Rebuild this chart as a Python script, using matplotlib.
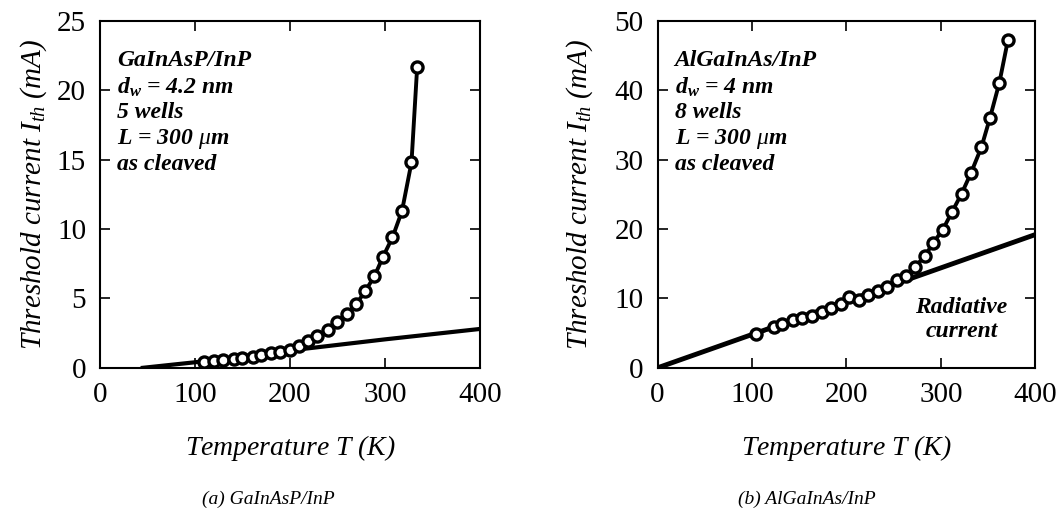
import matplotlib
matplotlib.use('Agg')
import matplotlib.pyplot as plt
import numpy as np

plt.rcParams['font.family'] = ['Liberation Serif', 'DejaVu Serif']
plt.rcParams['mathtext.fontset'] = 'custom'
plt.rcParams['mathtext.rm'] = 'Liberation Serif'
plt.rcParams['mathtext.it'] = 'Liberation Serif:italic'
plt.rcParams['mathtext.bf'] = 'Liberation Serif:bold:italic'

# (a) GaInAsP/InP - measured threshold current
tempA = [110, 120, 130, 141, 150, 161, 170, 180, 190, 200, 210, 219, 229, 240,
         250, 260, 270, 279, 289, 298, 308, 318, 328, 334]
ithA = [0.45, 0.5, 0.58, 0.65, 0.7, 0.8, 0.95, 1.05, 1.15, 1.3, 1.6, 1.95, 2.3, 2.7,
        3.3, 3.9, 4.6, 5.5, 6.6, 8.0, 9.4, 11.3, 14.8, 21.7]
# (a) radiative current
radTA = [45, 100, 200, 300, 400]
radIA = [0.0, 0.4, 1.25, 2.05, 2.8]

# (b) AlGaInAs/InP - measured threshold current
tempB = [104, 123, 132, 143, 153, 164, 174, 184, 194, 203, 213, 223, 233, 243,
         254, 263, 273, 283, 292, 302, 312, 322, 332, 343, 352, 362, 371]
ithB = [4.9, 5.9, 6.3, 6.9, 7.2, 7.5, 8.1, 8.6, 9.2, 10.2, 9.8, 10.5, 11.0, 11.7,
        12.7, 13.3, 14.6, 16.1, 18.0, 19.9, 22.5, 25.1, 28.1, 31.8, 36.0, 41.1, 47.2]
# (b) radiative current
radTB = [0, 400]
radIB = [0.0, 19.2]

fig = plt.figure(figsize=(10.64, 5.21), dpi=100)
axA = fig.add_axes([0.094, 0.294, 0.357, 0.666])
axB = fig.add_axes([0.618, 0.294, 0.355, 0.666])

mk = dict(color='black', lw=2.8, marker='o', markersize=8, markerfacecolor='white',
          markeredgecolor='black', markeredgewidth=2.4)

axA.plot(radTA, radIA, color='black', lw=3)
axA.plot(tempA, ithA, **mk)
axB.plot(radTB, radIB, color='black', lw=3.5)
axB.plot(tempB, ithB, **mk)

for ax, ymax, ystep, ypad in [(axA, 25, 5, 6), (axB, 50, 10, 14)]:
    ax.set_xlim(0, 400)
    ax.set_ylim(0, ymax)
    ax.set_xticks([0, 100, 200, 300, 400])
    ax.set_yticks(np.arange(0, ymax + 1, ystep))
    ax.tick_params(direction='in', top=True, right=True, length=7, width=1.2,
                   labelsize=21, pad=10)
    for s in ax.spines.values():
        s.set_linewidth(1.5)
    ax.set_xlabel('Temperature $T$ (K)', fontsize=20, style='italic', labelpad=18)
    ax.set_ylabel('Threshold current $I_{th}$ (mA)', fontsize=21, style='italic',
                  labelpad=ypad)

axA.text(0.045, 0.915, 'GaInAsP/InP\n$\\mathbf{d_w}$ = 4.2 nm\n5 wells\nL = 300 $\\mu$m\nas cleaved',
         transform=axA.transAxes, fontsize=17, style='italic', fontweight='bold',
         va='top', ha='left', linespacing=1.22)
axB.text(0.045, 0.915, 'AlGaInAs/InP\n$\\mathbf{d_w}$ = 4 nm\n8 wells\nL = 300 $\\mu$m\nas cleaved',
         transform=axB.transAxes, fontsize=17, style='italic', fontweight='bold',
         va='top', ha='left', linespacing=1.22)
axB.text(322, 7, 'Radiative\ncurrent', fontsize=17, style='italic', fontweight='bold',
         ha='center', va='center', linespacing=1.2)

fig.text(0.252, 0.033, '(a) GaInAsP/InP', fontsize=14, style='italic', ha='center')
fig.text(0.758, 0.033, '(b) AlGaInAs/InP', fontsize=14, style='italic', ha='center')

fig.savefig('out.png', dpi=100)
